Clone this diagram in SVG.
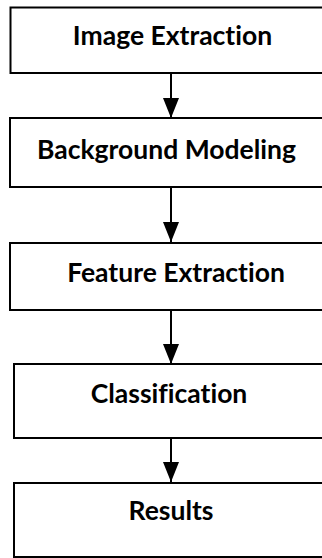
<svg xmlns="http://www.w3.org/2000/svg" width="322" height="558" viewBox="0 0 322 558">
<defs>
<style>
.box{fill:#fff;stroke:#000;stroke-width:2}
.lbl{font-family:Lato,"Open Sans","Liberation Sans",sans-serif;font-weight:bold;font-size:26.5px;fill:#000;text-anchor:middle;font-variant-ligatures:none;font-feature-settings:"liga" 0}
.conn{stroke:#000;stroke-width:2;fill:none}
</style>
<marker id="ah" viewBox="0 0 20 16" refX="20" refY="8" markerWidth="20" markerHeight="16" markerUnits="userSpaceOnUse" orient="auto">
<path d="M0,0 L20,8 L0,16 Z" fill="#000"/>
</marker>
</defs>
<rect width="322" height="558" fill="#fff"/>
<g id="connectors">
<line class="conn" x1="171" y1="73" x2="171" y2="118" marker-end="url(#ah)"/>
<line class="conn" x1="171" y1="187" x2="171" y2="242" marker-end="url(#ah)"/>
<line class="conn" x1="171" y1="310" x2="171" y2="364" marker-end="url(#ah)"/>
<line class="conn" x1="171" y1="438" x2="171" y2="482" marker-end="url(#ah)"/>
</g>
<g id="node-image-extraction">
<rect class="box" x="10.5" y="7.5" width="330" height="65.5"/>
<text class="lbl" x="172.5" y="45">Image Extraction</text>
</g>
<g id="node-background-modeling">
<rect class="box" x="10" y="118" width="330" height="69"/>
<text class="lbl" x="166.5" y="159">Background Modeling</text>
</g>
<g id="node-feature-extraction">
<rect class="box" x="10" y="243" width="330" height="67"/>
<text class="lbl" x="176" y="282">Feature Extraction</text>
</g>
<g id="node-classification">
<rect class="box" x="14" y="364" width="330" height="74"/>
<text class="lbl" x="169" y="403">Classification</text>
</g>
<g id="node-results">
<rect class="box" x="14" y="483" width="330" height="74"/>
<text class="lbl" x="171" y="520">Results</text>
</g>
</svg>
